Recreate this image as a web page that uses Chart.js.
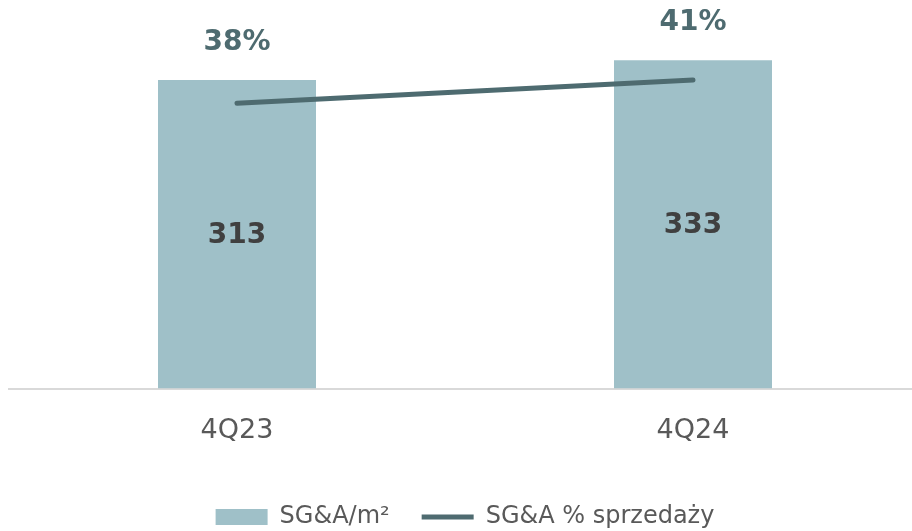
<!DOCTYPE html>
<html>
<head>
<meta charset="utf-8">
<script src="https://cdn.jsdelivr.net/npm/chart.js@4"></script>
<style>
  html, body { margin: 0; padding: 0; overflow: hidden; background: #fff; }
  #wrap { width: 930px; height: 539px; }
</style>
</head>
<body>
<div id="wrap"><canvas id="chart" width="930" height="539"></canvas></div>
<script>
const categories = ['4Q23', '4Q24'];
const sgaPerM2 = [313, 333];
const sgaPctSales = [38, 41];
const seriesNames = ['SG&A/m²', 'SG&A % sprzedaży'];

const barColor = '#9fc0c8';
const lineColor = '#4e6b70';

// labels: numbers inside bars, percentages above bars
const valueLabels = {
    id: 'valueLabels',
    afterDatasetsDraw(chart) {
        const ctx = chart.ctx;
        const bars = chart.getDatasetMeta(0).data;
        ctx.save();
        ctx.textAlign = 'center';
        ctx.textBaseline = 'middle';
        ctx.font = 'bold 28px "DejaVu Sans"';
        bars.forEach((bar, i) => {
            ctx.fillStyle = '#404040';
            ctx.fillText(String(sgaPerM2[i]), bar.x, (bar.y + bar.base) / 2 + 1);
            ctx.fillStyle = lineColor;
            ctx.fillText(sgaPctSales[i] + '%', bar.x, bar.y - 37);
        });
        ctx.restore();
    }
};

new Chart(document.getElementById('chart').getContext('2d'), {
    type: 'bar',
    data: {
        labels: categories,
        datasets: [
            {
                type: 'bar',
                label: seriesNames[0],
                data: sgaPerM2,
                backgroundColor: barColor,
                borderWidth: 0,
                categoryPercentage: 1,
                barPercentage: 0.3465,
                pointStyle: 'rect',
                yAxisID: 'y',
                order: 2
            },
            {
                type: 'line',
                label: seriesNames[1],
                data: sgaPctSales,
                borderColor: lineColor,
                backgroundColor: lineColor,
                borderWidth: 5,
                borderCapStyle: 'round',
                pointRadius: 0,
                pointStyle: 'line',
                yAxisID: 'y1',
                order: 1
            }
        ]
    },
    options: {
        responsive: false,
        animation: false,
        layout: { padding: { left: 9, right: 9, top: 0, bottom: 0 } },
        scales: {
            x: {
                grid: { display: false, drawTicks: false },
                border: { display: true, color: '#d9d9d9', width: 2 },
                ticks: {
                    color: '#595959',
                    padding: 26,
                    font: { family: 'DejaVu Sans', size: 27 }
                }
            },
            y: { display: false, min: 0, max: 394 },
            y1: { display: false, position: 'right', min: 1.285, max: 51.285 }
        },
        plugins: {
            tooltip: { enabled: false },
            legend: {
                position: 'bottom',
                labels: {
                    usePointStyle: true,
                    pointStyleWidth: 52,
                    boxHeight: 16,
                    padding: 32,
                    color: '#595959',
                    font: { family: 'DejaVu Sans', size: 24 },
                    sort: (a, b) => a.datasetIndex - b.datasetIndex
                }
            }
        }
    },
    plugins: [valueLabels]
});
</script>
</body>
</html>
